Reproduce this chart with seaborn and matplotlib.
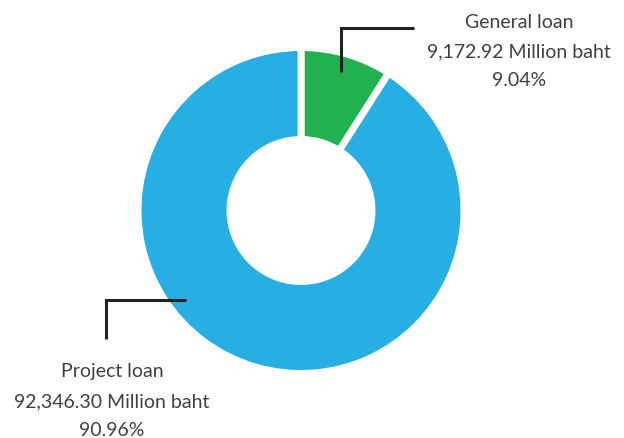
import matplotlib
matplotlib.use("Agg")
import matplotlib.pyplot as plt
import seaborn as sns

categories = ["General loan", "Project loan"]
values = [9172.92, 92346.30]          # Million baht
percents = [9.04, 90.96]
colors = ["#21B14F", "#27AEE3"]

sns.set_theme(style="white")
plt.rcParams["font.family"] = ["Lato", "DejaVu Sans"]

W, H = 624, 439
fig = plt.figure(figsize=(W / 100, H / 100), dpi=100)
ax = fig.add_axes([0, 0, 1, 1])

def Y(y):
    return H - y

ax.pie(values, colors=sns.color_palette(colors), startangle=90, counterclock=False,
       center=(301, Y(211.5)), radius=163,
       wedgeprops=dict(width=92, edgecolor="white", linewidth=5))
ax.set_xlim(0, W)
ax.set_ylim(0, H)
ax.set_aspect("equal")
ax.axis("off")

line_kw = dict(color="#222222", lw=2.2, solid_joinstyle="miter", solid_capstyle="butt")
ax.plot([341, 341, 414], [Y(73), Y(29), Y(29)], **line_kw)
ax.plot([186, 106, 106], [Y(301), Y(301), Y(340)], **line_kw)

def label(i, x, ys):
    lines = [categories[i], f"{values[i]:,.2f} Million baht", f"{percents[i]:.2f}%"]
    for t, y in zip(lines, ys):
        ax.text(x, Y(y), t, ha="center", va="center", fontsize=14,
                fontweight="normal", color="#404040")

label(0, 519, [22, 52, 81])
label(1, 112, [372, 402, 431])

fig.savefig("out.png", dpi=100)
